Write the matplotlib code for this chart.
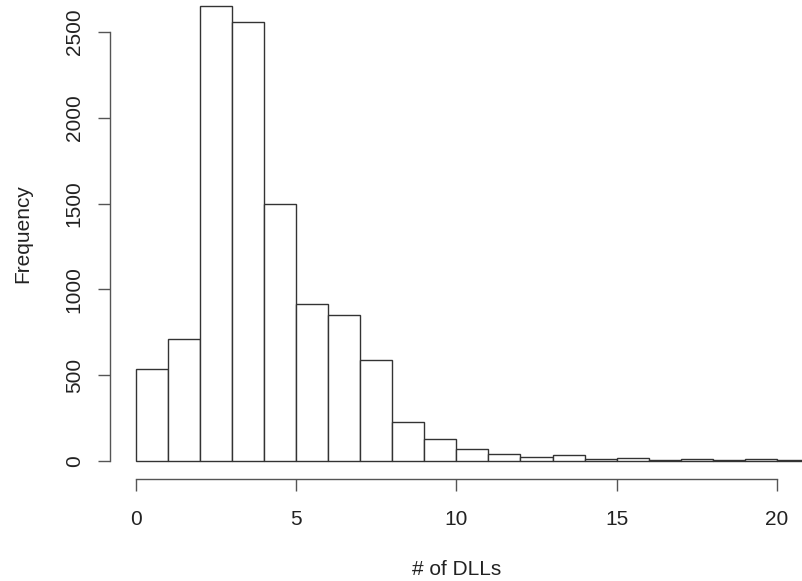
import matplotlib
matplotlib.use("Agg")
import matplotlib.pyplot as plt
import numpy as np

# Histogram data (# of DLLs, bin width 1)
bin_edges = list(range(0, 22))
counts = [533, 710, 2655, 2560, 1498, 912, 852, 589, 224, 125, 70,
          41, 23, 31, 8, 15, 7, 10, 3, 8, 3]
x_ticks = [0, 5, 10, 15, 20]
y_ticks = [0, 500, 1000, 1500, 2000, 2500]
x_label = "# of DLLs"
y_label = "Frequency"

plt.rcParams['font.family'] = ['Liberation Sans', 'DejaVu Sans']

fig = plt.figure(figsize=(8.02, 5.81), dpi=100)
ax = fig.add_axes([0.1374, 0.1757, 0.8633, 0.846])

edge_col = '#333333'
ax.bar(bin_edges[:-1], counts, width=1, align='edge', facecolor='white',
       edgecolor=edge_col, linewidth=1.0)

ax.set_xlim(-0.8, 20.8)
ax.set_ylim(-106.2, 2761.2)

for s in ['top', 'right']:
    ax.spines[s].set_visible(False)
ax.spines['left'].set_bounds(0, 2500)
ax.spines['bottom'].set_bounds(0, 20)
for s in ['left', 'bottom']:
    ax.spines[s].set_color('#555555')
    ax.spines[s].set_linewidth(1.0)

ax.set_xticks(x_ticks)
ax.set_yticks(y_ticks)
ax.set_yticklabels([str(v) for v in y_ticks], rotation=90, va='center')
ax.tick_params(axis='both', length=8.6, width=1.0, color='#555555',
               labelsize=15, labelcolor='#222222')
ax.tick_params(axis='x', pad=14)
ax.tick_params(axis='y', pad=10.5)

ax.set_xlabel(x_label, fontsize=15, color='#222222', labelpad=22)
ax.set_ylabel(y_label, fontsize=15, color='#222222', labelpad=23.5)

fig.savefig("out.png", dpi=100)
